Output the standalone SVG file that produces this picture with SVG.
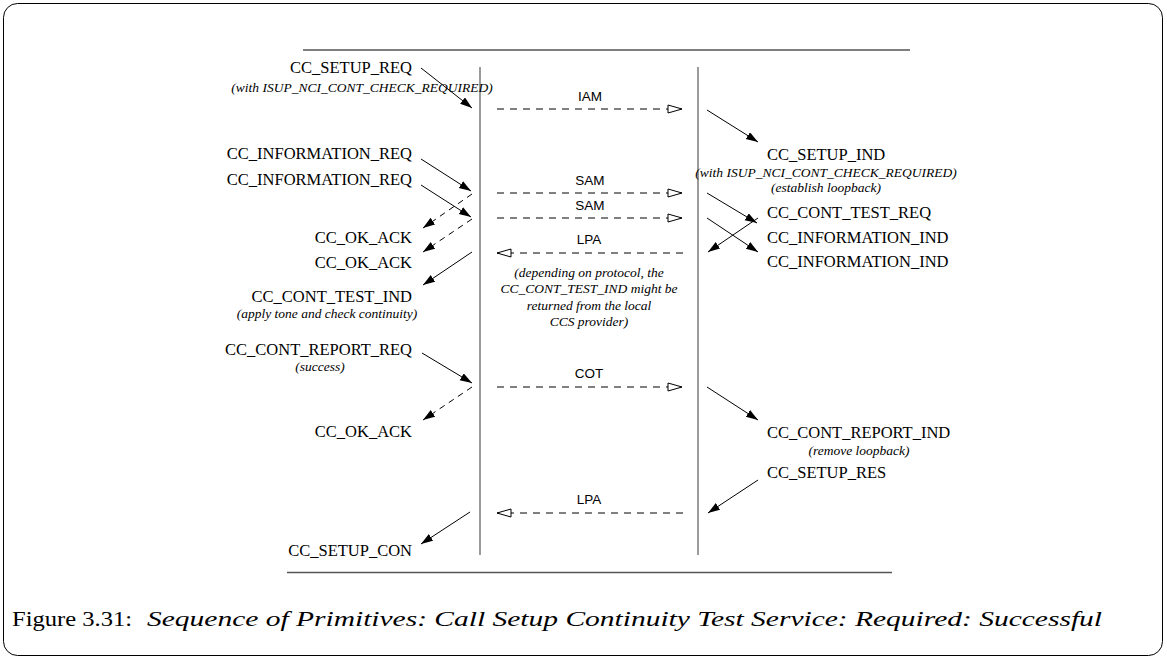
<svg xmlns="http://www.w3.org/2000/svg" width="1167" height="657" viewBox="0 0 1167 657">
<style>
.lbl{font-family:"Liberation Serif","Times New Roman",serif;font-size:16.5px;fill:#000}
.note{font-family:"Liberation Serif","Times New Roman",serif;font-size:13.5px;font-style:italic;fill:#000}
.msg{font-family:"Liberation Sans",Arial,sans-serif;font-size:13.5px;fill:#000;text-anchor:middle}
.cap{font-family:"Liberation Serif","Times New Roman",serif;font-size:20px;fill:#000}
.life{stroke:#7a7a7a;stroke-width:1.5;fill:none}
.rule{stroke:#555;stroke-width:1.3;fill:none}
.prim{stroke:#000;stroke-width:1;fill:none;marker-end:url(#ah)}
.ack{stroke:#000;stroke-width:1;fill:none;stroke-dasharray:6,5;marker-end:url(#ah)}
.sig{stroke:#000;stroke-width:1;fill:none;stroke-dasharray:7,6;marker-end:url(#oh)}
</style>
<defs>
<marker id="ah" markerUnits="userSpaceOnUse" markerWidth="14" markerHeight="10" refX="12" refY="4" orient="auto">
<path d="M0,0 L12,4 L0,8 z" fill="#000"/>
</marker>
<marker id="oh" markerUnits="userSpaceOnUse" markerWidth="18" markerHeight="12" refX="15" refY="5" orient="auto">
<path d="M1,1 L15,5 L1,9 z" fill="#fff" stroke="#000" stroke-width="1"/>
</marker>
</defs>
<rect x="3.5" y="3.5" width="1159" height="652" rx="14" ry="14" fill="#fff" stroke="#000" stroke-width="1"/>
<g id="frame">
<line class="rule" x1="303" y1="50" x2="910" y2="50"/>
<line class="rule" x1="287" y1="572.5" x2="892" y2="572.5"/>
<line class="life" x1="480" y1="67" x2="480" y2="555"/>
<line class="life" x1="698" y1="67" x2="698" y2="555"/>
</g>
<g id="left-labels">
<text class="lbl" x="412" y="73" text-anchor="end">CC_SETUP_REQ</text>
<text class="note" x="362" y="92" text-anchor="middle">(with ISUP_NCI_CONT_CHECK_REQUIRED)</text>
<text class="lbl" x="412" y="159" text-anchor="end">CC_INFORMATION_REQ</text>
<text class="lbl" x="412" y="185" text-anchor="end">CC_INFORMATION_REQ</text>
<text class="lbl" x="412" y="243" text-anchor="end">CC_OK_ACK</text>
<text class="lbl" x="412" y="268" text-anchor="end">CC_OK_ACK</text>
<text class="lbl" x="412" y="302" text-anchor="end">CC_CONT_TEST_IND</text>
<text class="note" x="327" y="318" text-anchor="middle">(apply tone and check continuity)</text>
<text class="lbl" x="412" y="355" text-anchor="end">CC_CONT_REPORT_REQ</text>
<text class="note" x="320" y="371" text-anchor="middle">(success)</text>
<text class="lbl" x="412" y="437" text-anchor="end">CC_OK_ACK</text>
<text class="lbl" x="412" y="556" text-anchor="end">CC_SETUP_CON</text>
</g>
<g id="right-labels">
<text class="lbl" x="767" y="160">CC_SETUP_IND</text>
<text class="note" x="826" y="177" text-anchor="middle">(with ISUP_NCI_CONT_CHECK_REQUIRED)</text>
<text class="note" x="826" y="192" text-anchor="middle">(establish loopback)</text>
<text class="lbl" x="767" y="218">CC_CONT_TEST_REQ</text>
<text class="lbl" x="767" y="243">CC_INFORMATION_IND</text>
<text class="lbl" x="767" y="267">CC_INFORMATION_IND</text>
<text class="lbl" x="767" y="438">CC_CONT_REPORT_IND</text>
<text class="note" x="859" y="455" text-anchor="middle">(remove loopback)</text>
<text class="lbl" x="767" y="478">CC_SETUP_RES</text>
</g>
<g id="messages">
<text class="msg" x="590" y="101">IAM</text>
<text class="msg" x="590" y="185">SAM</text>
<text class="msg" x="590" y="210">SAM</text>
<text class="msg" x="589" y="244">LPA</text>
<text class="note" x="589" y="277" text-anchor="middle">(depending on protocol, the</text>
<text class="note" x="589" y="293" text-anchor="middle">CC_CONT_TEST_IND might be</text>
<text class="note" x="589" y="310" text-anchor="middle">returned from the local</text>
<text class="note" x="589" y="326" text-anchor="middle">CCS provider)</text>
<text class="msg" x="589" y="378">COT</text>
<text class="msg" x="589" y="504">LPA</text>
</g>
<g id="connectors">
<line class="sig" x1="497" y1="109" x2="682" y2="109"/>
<line class="sig" x1="497" y1="193" x2="682" y2="193"/>
<line class="sig" x1="497" y1="218" x2="682" y2="218"/>
<line class="sig" x1="683" y1="253" x2="497" y2="253"/>
<line class="sig" x1="497" y1="387" x2="682" y2="387"/>
<line class="sig" x1="683" y1="513" x2="497" y2="513"/>
<line class="prim" x1="421" y1="68" x2="472" y2="108"/>
<line class="prim" x1="421" y1="159" x2="471" y2="191"/>
<line class="prim" x1="421" y1="185" x2="471" y2="217"/>
<line class="prim" x1="472" y1="252" x2="423" y2="285"/>
<line class="prim" x1="422" y1="353" x2="472" y2="383"/>
<line class="prim" x1="470" y1="512" x2="421" y2="544"/>
<line class="ack" x1="472" y1="194" x2="423" y2="228"/>
<line class="ack" x1="472" y1="219" x2="423" y2="252"/>
<line class="ack" x1="472" y1="387" x2="423" y2="420"/>
<line class="prim" x1="707" y1="110" x2="758" y2="142"/>
<line class="prim" x1="707" y1="193" x2="757" y2="223"/>
<line class="prim" x1="707" y1="218" x2="758" y2="252"/>
<line class="prim" x1="758" y1="218" x2="708" y2="252"/>
<line class="prim" x1="707" y1="387" x2="758" y2="420"/>
<line class="prim" x1="758" y1="480" x2="708" y2="513"/>
</g>
<g id="caption">
<text class="cap" x="12" y="626" textLength="120" lengthAdjust="spacingAndGlyphs">Figure 3.31:</text>
<text class="cap" x="147" y="626" font-style="italic" textLength="955" lengthAdjust="spacingAndGlyphs">Sequence of Primitives: Call Setup Continuity Test Service: Required: Successful</text>
</g>
</svg>
